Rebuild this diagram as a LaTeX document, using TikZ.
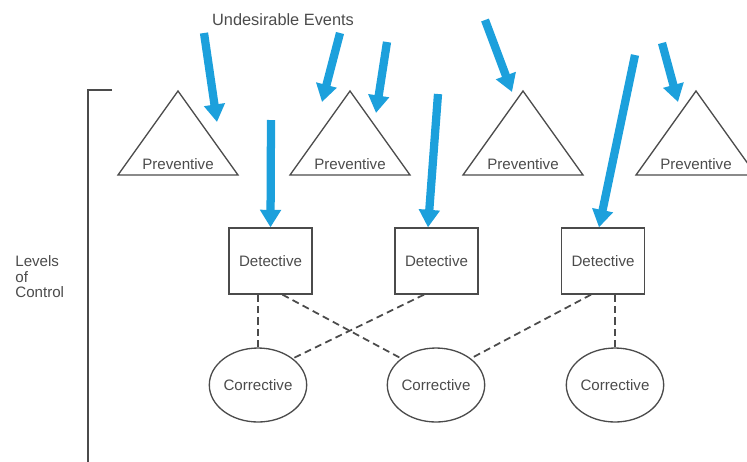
\documentclass[tikz,border=0pt]{standalone}
\usepackage{fontspec}
\setmainfont{Liberation Sans}
\usepackage{tikz}
\usetikzlibrary{shapes.geometric, positioning, arrows.meta}
\definecolor{eventblue}{RGB}{28,160,220}
\definecolor{inkgray}{RGB}{75,75,75}

\begin{document}
\begin{tikzpicture}[x=0.02cm, y=-0.02cm,
    txt/.style={text=inkgray, font=\fontsize{8.6}{8.8}\selectfont, inner sep=0pt},
    ctrl/.style={draw=inkgray, line width=0.75pt},
    detbox/.style={ctrl, rectangle, minimum width=1.66cm, minimum height=1.32cm, txt},
    corell/.style={ctrl, ellipse, minimum width=1.82cm, minimum height=1.48cm, txt},
    link/.style={draw=inkgray, line width=1pt, dash pattern=on 4pt off 2.5pt},
    event/.style={draw=eventblue, line width=4.7pt, -{Triangle[length=10pt,width=11.5pt]}}]
    \useasboundingbox (0,0) rectangle (747,461);

    % title and side label
    \node[txt, font=\fontsize{9.3}{10}\selectfont] (title) at (283,20) {Undesirable Events};
    \node[txt, align=left, anchor=west] (levels) at (15,277) {Levels\\of\\Control};
    \draw[ctrl] (112,90) -- (88,90) -- (88,470);

    % preventive level
    \foreach \n/\x in {1/178, 2/350, 3/523, 4/696} {
        \draw[ctrl] (\x,91) -- (\x+60,175) -- (\x-60,175) -- cycle;
        \node[txt] (prev\n) at (\x,164) {Preventive};
    }

    % detective and corrective levels
    \node[detbox] (det1) at (270.5,261) {Detective};
    \node[detbox] (det2) at (436.5,261) {Detective};
    \node[detbox] (det3) at (603,261) {Detective};
    \node[corell] (cor1) at (258,385) {Corrective};
    \node[corell] (cor2) at (436,385) {Corrective};
    \node[corell] (cor3) at (615,385) {Corrective};

    \path[link]
        (cor1.north) edge (cor1.north |- det1.south)
        ([xshift=0.24cm]det1.south) edge (cor2.north west)
        ([xshift=-0.25cm]det2.south) edge (cor1.north east)
        ([xshift=-0.24cm]det3.south) edge (cor2.north east)
        (cor3.north) edge (cor3.north |- det3.south);

    % undesirable events
    \coordinate (ev1) at (204,33);  \coordinate (hit1) at (217,122);
    \coordinate (ev2) at (271,120);
    \coordinate (ev3) at (340,33);  \coordinate (hit3) at (322,102);
    \coordinate (ev4) at (387,42);  \coordinate (hit4) at (376,113);
    \coordinate (ev5) at (438,94);
    \coordinate (ev6) at (485,20);  \coordinate (hit6) at (512,92);
    \coordinate (ev7) at (635,55);
    \coordinate (ev8) at (662,43);  \coordinate (hit8) at (678,102);

    \draw[event] (ev1) -- (hit1);
    \draw[event] (ev2) -- (det1.north);
    \draw[event] (ev3) -- (hit3);
    \draw[event] (ev4) -- (hit4);
    \draw[event] (ev5) -- ([xshift=-0.17cm]det2.north);
    \draw[event] (ev6) -- (hit6);
    \draw[event] (ev7) -- ([xshift=-0.08cm]det3.north);
    \draw[event] (ev8) -- (hit8);
\end{tikzpicture}
\end{document}
